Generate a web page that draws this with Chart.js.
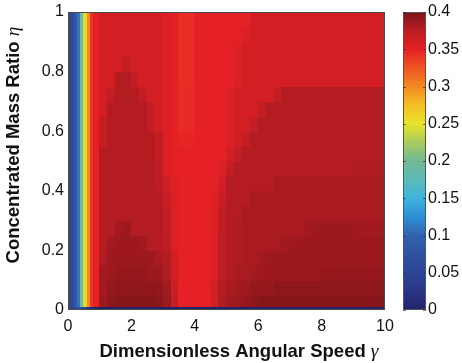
<!DOCTYPE html>
<html>
<head>
<meta charset="utf-8">
<script src="https://cdn.jsdelivr.net/npm/chart.js@4.4.1/dist/chart.umd.min.js"></script>
<style>
    html, body { margin: 0; padding: 0; background: #fff; }
    canvas { display: block; }
</style>
</head>
<body>
<canvas id="chart" width="462" height="363"></canvas>
<script>
// cell edges of the map (gamma across, eta up)
const xEdges = [0, 0.1, 0.2, 0.3, 0.4, 0.5, 0.6, 0.7, 0.8, 1,
    1.25, 1.5, 1.75, 2, 2.25, 2.5, 2.75, 3, 3.25, 3.5, 3.75, 4, 4.25, 4.5, 4.75,
    5, 5.25, 5.5, 5.75, 6, 6.25, 6.5, 6.75, 7, 7.25, 7.5, 7.75, 8, 8.25, 8.5, 8.75,
    9, 9.25, 9.5, 9.75, 10];
const etaEdges = [0, 0.012, 0.05, 0.1, 0.15, 0.2, 0.25, 0.3, 0.35, 0.4, 0.45,
    0.5, 0.55, 0.6, 0.65, 0.7, 0.75, 0.8, 0.85, 0.9, 0.95, 1];

// one row per eta band, bottom to top
const heatValues = [
    [0.05, 0.05, 0.06, 0.07, 0.08, 0.05, 0.02, 0.01,
     0, 0, 0, 0, 0, 0, 0, 0, 0, 0,
     0, 0, 0, 0, 0, 0, 0, 0, 0, 0,
     0, 0, 0, 0, 0, 0, 0, 0, 0, 0,
     0, 0, 0, 0, 0, 0, 0],
    [0.05, 0.06, 0.08, 0.11, 0.2, 0.26, 0.3, 0.34,
     0.35, 0.386, 0.392, 0.395, 0.395, 0.395, 0.395, 0.395, 0.392, 0.386,
     0.37, 0.35, 0.35, 0.35, 0.35, 0.36, 0.379, 0.384, 0.386, 0.389,
     0.392, 0.395, 0.395, 0.395, 0.395, 0.395, 0.395, 0.395, 0.395, 0.395,
     0.395, 0.395, 0.395, 0.395, 0.395, 0.395, 0.395],
    [0.05, 0.06, 0.08, 0.11, 0.2, 0.26, 0.3, 0.34,
     0.35, 0.384, 0.39, 0.392, 0.392, 0.392, 0.392, 0.392, 0.39, 0.384,
     0.366, 0.35, 0.35, 0.35, 0.35, 0.36, 0.377, 0.381, 0.384, 0.386,
     0.389, 0.389, 0.389, 0.392, 0.392, 0.392, 0.392, 0.392, 0.392, 0.392,
     0.392, 0.392, 0.392, 0.392, 0.392, 0.392, 0.392],
    [0.05, 0.06, 0.08, 0.11, 0.2, 0.26, 0.3, 0.34,
     0.35, 0.384, 0.386, 0.389, 0.389, 0.389, 0.389, 0.386, 0.386, 0.379,
     0.36, 0.35, 0.35, 0.35, 0.35, 0.355, 0.373, 0.379, 0.381, 0.381,
     0.384, 0.386, 0.386, 0.386, 0.386, 0.386, 0.386, 0.386, 0.386, 0.389,
     0.389, 0.389, 0.389, 0.389, 0.389, 0.389, 0.389],
    [0.05, 0.06, 0.08, 0.11, 0.2, 0.26, 0.3, 0.34,
     0.35, 0.379, 0.386, 0.386, 0.386, 0.386, 0.386, 0.386, 0.381, 0.377,
     0.36, 0.35, 0.35, 0.35, 0.35, 0.355, 0.373, 0.377, 0.379, 0.381,
     0.381, 0.384, 0.386, 0.386, 0.386, 0.386, 0.386, 0.386, 0.386, 0.386,
     0.386, 0.386, 0.386, 0.386, 0.386, 0.386, 0.386],
    [0.05, 0.06, 0.08, 0.11, 0.2, 0.26, 0.3, 0.34,
     0.35, 0.377, 0.384, 0.386, 0.386, 0.386, 0.384, 0.377, 0.377, 0.373,
     0.355, 0.35, 0.35, 0.35, 0.35, 0.355, 0.372, 0.377, 0.379, 0.381,
     0.381, 0.381, 0.381, 0.381, 0.384, 0.386, 0.386, 0.386, 0.386, 0.386,
     0.386, 0.386, 0.386, 0.386, 0.386, 0.386, 0.386],
    [0.05, 0.06, 0.08, 0.11, 0.2, 0.26, 0.3, 0.34,
     0.35, 0.377, 0.377, 0.384, 0.386, 0.377, 0.377, 0.377, 0.377, 0.37,
     0.355, 0.35, 0.35, 0.35, 0.35, 0.354, 0.37, 0.377, 0.379, 0.381,
     0.381, 0.381, 0.381, 0.381, 0.381, 0.381, 0.381, 0.384, 0.386, 0.386,
     0.386, 0.386, 0.386, 0.384, 0.384, 0.384, 0.384],
    [0.05, 0.06, 0.08, 0.11, 0.2, 0.26, 0.3, 0.34,
     0.35, 0.377, 0.377, 0.377, 0.377, 0.377, 0.377, 0.377, 0.377, 0.37,
     0.355, 0.35, 0.35, 0.35, 0.35, 0.354, 0.37, 0.377, 0.377, 0.381,
     0.381, 0.381, 0.381, 0.381, 0.381, 0.381, 0.381, 0.381, 0.381, 0.381,
     0.381, 0.381, 0.381, 0.381, 0.381, 0.381, 0.381],
    [0.05, 0.06, 0.08, 0.11, 0.2, 0.26, 0.3, 0.34,
     0.35, 0.377, 0.377, 0.377, 0.377, 0.377, 0.377, 0.377, 0.377, 0.366,
     0.355, 0.35, 0.35, 0.35, 0.35, 0.354, 0.366, 0.377, 0.377, 0.377,
     0.381, 0.381, 0.381, 0.381, 0.381, 0.381, 0.381, 0.381, 0.381, 0.381,
     0.381, 0.381, 0.381, 0.381, 0.381, 0.381, 0.381],
    [0.05, 0.06, 0.08, 0.11, 0.2, 0.26, 0.3, 0.34,
     0.35, 0.377, 0.377, 0.377, 0.377, 0.377, 0.377, 0.377, 0.372, 0.36,
     0.355, 0.35, 0.35, 0.35, 0.35, 0.35, 0.36, 0.377, 0.377, 0.377,
     0.377, 0.377, 0.377, 0.381, 0.381, 0.381, 0.381, 0.381, 0.381, 0.381,
     0.381, 0.381, 0.381, 0.381, 0.381, 0.381, 0.381],
    [0.05, 0.06, 0.08, 0.11, 0.2, 0.26, 0.3, 0.34,
     0.35, 0.377, 0.377, 0.377, 0.377, 0.377, 0.377, 0.377, 0.372, 0.355,
     0.35, 0.35, 0.35, 0.35, 0.35, 0.35, 0.355, 0.37, 0.377, 0.377,
     0.377, 0.377, 0.377, 0.377, 0.377, 0.377, 0.377, 0.377, 0.377, 0.377,
     0.377, 0.377, 0.377, 0.379, 0.379, 0.379, 0.379],
    [0.05, 0.06, 0.08, 0.11, 0.2, 0.26, 0.3, 0.34,
     0.35, 0.377, 0.377, 0.377, 0.377, 0.377, 0.377, 0.377, 0.37, 0.355,
     0.35, 0.35, 0.35, 0.35, 0.35, 0.35, 0.35, 0.36, 0.37, 0.377,
     0.377, 0.377, 0.377, 0.377, 0.377, 0.377, 0.377, 0.377, 0.377, 0.377,
     0.377, 0.377, 0.377, 0.377, 0.377, 0.377, 0.377],
    [0.05, 0.06, 0.08, 0.11, 0.2, 0.26, 0.3, 0.34,
     0.35, 0.37, 0.377, 0.377, 0.377, 0.377, 0.377, 0.377, 0.37, 0.355,
     0.35, 0.348, 0.348, 0.35, 0.35, 0.35, 0.35, 0.355, 0.36, 0.37,
     0.377, 0.377, 0.377, 0.377, 0.377, 0.377, 0.377, 0.377, 0.377, 0.377,
     0.377, 0.377, 0.377, 0.377, 0.377, 0.377, 0.377],
    [0.05, 0.06, 0.08, 0.11, 0.2, 0.26, 0.3, 0.34,
     0.35, 0.37, 0.377, 0.377, 0.377, 0.377, 0.377, 0.37, 0.36, 0.355,
     0.35, 0.345, 0.345, 0.35, 0.35, 0.35, 0.35, 0.355, 0.36, 0.36,
     0.37, 0.377, 0.377, 0.377, 0.377, 0.377, 0.377, 0.377, 0.377, 0.377,
     0.377, 0.377, 0.377, 0.377, 0.377, 0.377, 0.377],
    [0.05, 0.06, 0.08, 0.11, 0.2, 0.26, 0.3, 0.34,
     0.35, 0.36, 0.377, 0.377, 0.377, 0.377, 0.377, 0.37, 0.36, 0.355,
     0.35, 0.345, 0.345, 0.35, 0.35, 0.35, 0.35, 0.355, 0.36, 0.36,
     0.36, 0.37, 0.377, 0.377, 0.377, 0.377, 0.377, 0.377, 0.377, 0.377,
     0.377, 0.377, 0.377, 0.377, 0.377, 0.377, 0.377],
    [0.05, 0.06, 0.08, 0.11, 0.2, 0.26, 0.3, 0.34,
     0.35, 0.36, 0.37, 0.377, 0.377, 0.377, 0.37, 0.36, 0.36, 0.355,
     0.35, 0.345, 0.345, 0.35, 0.35, 0.35, 0.35, 0.355, 0.36, 0.36,
     0.36, 0.36, 0.36, 0.37, 0.377, 0.377, 0.377, 0.377, 0.377, 0.377,
     0.377, 0.377, 0.377, 0.377, 0.377, 0.377, 0.377],
    [0.05, 0.06, 0.08, 0.11, 0.2, 0.26, 0.3, 0.34,
     0.35, 0.36, 0.36, 0.377, 0.377, 0.37, 0.36, 0.36, 0.36, 0.355,
     0.35, 0.343, 0.343, 0.35, 0.35, 0.35, 0.35, 0.35, 0.355, 0.36,
     0.36, 0.36, 0.36, 0.36, 0.36, 0.36, 0.36, 0.36, 0.36, 0.36,
     0.36, 0.36, 0.36, 0.36, 0.36, 0.36, 0.36],
    [0.05, 0.06, 0.08, 0.11, 0.2, 0.26, 0.3, 0.34,
     0.35, 0.36, 0.36, 0.36, 0.37, 0.36, 0.36, 0.36, 0.36, 0.355,
     0.35, 0.343, 0.343, 0.35, 0.35, 0.35, 0.35, 0.35, 0.355, 0.36,
     0.36, 0.36, 0.36, 0.36, 0.36, 0.36, 0.36, 0.36, 0.36, 0.36,
     0.36, 0.36, 0.36, 0.36, 0.36, 0.36, 0.36],
    [0.05, 0.06, 0.08, 0.11, 0.2, 0.26, 0.3, 0.34,
     0.35, 0.36, 0.36, 0.36, 0.36, 0.36, 0.36, 0.36, 0.36, 0.355,
     0.35, 0.343, 0.343, 0.35, 0.35, 0.35, 0.35, 0.35, 0.355, 0.36,
     0.36, 0.36, 0.36, 0.36, 0.36, 0.36, 0.36, 0.36, 0.36, 0.36,
     0.36, 0.36, 0.36, 0.36, 0.36, 0.36, 0.36],
    [0.05, 0.06, 0.08, 0.11, 0.2, 0.26, 0.3, 0.34,
     0.35, 0.36, 0.36, 0.36, 0.36, 0.36, 0.36, 0.36, 0.36, 0.355,
     0.35, 0.343, 0.343, 0.35, 0.35, 0.35, 0.35, 0.35, 0.35, 0.355,
     0.36, 0.36, 0.36, 0.36, 0.36, 0.36, 0.36, 0.36, 0.36, 0.36,
     0.36, 0.36, 0.36, 0.36, 0.36, 0.36, 0.36],
    [0.05, 0.06, 0.08, 0.11, 0.2, 0.26, 0.3, 0.34,
     0.35, 0.36, 0.36, 0.36, 0.36, 0.36, 0.36, 0.36, 0.36, 0.355,
     0.35, 0.343, 0.343, 0.35, 0.35, 0.35, 0.35, 0.35, 0.35, 0.35,
     0.36, 0.36, 0.36, 0.36, 0.36, 0.36, 0.36, 0.36, 0.36, 0.36,
     0.36, 0.36, 0.36, 0.36, 0.36, 0.36, 0.36]
];

const xTickValues = [0, 2, 4, 6, 8, 10];
const yTickValues = [0, 0.2, 0.4, 0.6, 0.8, 1];
const colorbarTickValues = [0, 0.05, 0.1, 0.15, 0.2, 0.25, 0.3, 0.35, 0.4];

const cmapStops = [0, 0.025, 0.05, 0.075, 0.1, 0.125, 0.15, 0.175, 0.2,
    0.225, 0.25, 0.275, 0.3, 0.325, 0.35, 0.375, 0.4];
const cmapColors = ["#22236a", "#2a3484", "#2d4494", "#2f52a2", "#3062ae",
    "#2e8fd2", "#40b3de", "#5cbab8", "#72b994", "#a8cc5c", "#e8e32c",
    "#f5bf24", "#f28a22", "#ee5424", "#e52125", "#b91d23", "#7a1418"];

const tickFont = { family: "'Liberation Sans', Arial, sans-serif", size: 16 };
const titleFont = "bold 18.5px 'Liberation Sans', Arial, sans-serif";
const greekFont = "italic 19.5px 'Liberation Serif', 'Times New Roman', serif";

function hexToRgb(hex) {
    const n = parseInt(hex.slice(1), 16);
    return [(n >> 16) & 255, (n >> 8) & 255, n & 255];
}

function colorFor(value) {
    if (value <= cmapStops[0]) return cmapColors[0];
    for (let i = 1; i < cmapStops.length; i++) {
        if (value <= cmapStops[i]) {
            const t = (value - cmapStops[i - 1]) / (cmapStops[i] - cmapStops[i - 1]);
            const a = hexToRgb(cmapColors[i - 1]);
            const b = hexToRgb(cmapColors[i]);
            const c = a.map((v, k) => Math.round(v + (b[k] - v) * t));
            return `rgb(${c[0]}, ${c[1]}, ${c[2]})`;
        }
    }
    return cmapColors[cmapColors.length - 1];
}

function formatTick(value) {
    return String(Math.round(value * 100) / 100);
}

function measureTitle(ctx, text, greek) {
    ctx.font = titleFont;
    const w1 = ctx.measureText(text).width;
    ctx.font = greekFont;
    const w2 = ctx.measureText(greek).width;
    return { w1, w2, total: w1 + w2 };
}

const heatmapPlugin = {
    id: "heatmap",
    beforeDatasetsDraw(chart) {
        const { ctx, chartArea, scales: { x, y, y2 } } = chart;

        ctx.save();
        ctx.beginPath();
        ctx.rect(chartArea.left, chartArea.top, chartArea.width, chartArea.height);
        ctx.clip();
        heatValues.forEach((row, i) => {
            const yTop = Math.floor(y.getPixelForValue(etaEdges[i + 1]));
            const yBottom = Math.ceil(y.getPixelForValue(etaEdges[i]));
            row.forEach((value, j) => {
                const xLeft = Math.floor(x.getPixelForValue(xEdges[j]));
                const xRight = Math.ceil(x.getPixelForValue(xEdges[j + 1]));
                ctx.fillStyle = colorFor(value);
                ctx.fillRect(xLeft, yTop, xRight - xLeft, yBottom - yTop);
            });
        });
        ctx.restore();

        // axes box
        ctx.save();
        ctx.strokeStyle = "#4a4a4a";
        ctx.lineWidth = 1;
        ctx.strokeRect(chartArea.left + 0.5, chartArea.top + 0.5,
            chartArea.width - 1, chartArea.height - 1);
        ctx.restore();

        // colorbar
        const barLeft = 403;
        const barRight = 426;
        const barTop = y2.getPixelForValue(0.4);
        const barBottom = y2.getPixelForValue(0);
        const gradient = ctx.createLinearGradient(0, barBottom, 0, barTop);
        cmapStops.forEach((stop, i) => {
            gradient.addColorStop(stop / 0.4, cmapColors[i]);
        });
        ctx.save();
        ctx.fillStyle = gradient;
        ctx.fillRect(barLeft, barTop, barRight - barLeft, barBottom - barTop);
        ctx.strokeStyle = "#555";
        ctx.lineWidth = 1;
        ctx.strokeRect(barLeft + 0.5, barTop + 0.5, barRight - barLeft - 1, barBottom - barTop - 1);
        ctx.strokeStyle = "rgba(40, 40, 40, 0.6)";
        colorbarTickValues.forEach(v => {
            const py = Math.round(y2.getPixelForValue(v)) + 0.5;
            ctx.beginPath();
            ctx.moveTo(barLeft, py);
            ctx.lineTo(barLeft + 3, py);
            ctx.moveTo(barRight - 3, py);
            ctx.lineTo(barRight, py);
            ctx.stroke();
        });
        ctx.restore();
    },
    afterDraw(chart) {
        const { ctx } = chart;
        ctx.save();
        ctx.fillStyle = "#111";
        ctx.textBaseline = "alphabetic";
        ctx.textAlign = "left";

        // x title
        const xt = measureTitle(ctx, "Dimensionless Angular Speed ", "\u03b3");
        const xStart = 239 - xt.total / 2;
        ctx.font = titleFont;
        ctx.fillText("Dimensionless Angular Speed ", xStart, 357);
        ctx.font = greekFont;
        ctx.fillText("\u03b3", xStart + xt.w1, 357);

        // y title
        const yt = measureTitle(ctx, "Concentrated Mass Ratio ", "\u03b7");
        ctx.translate(19, 145 + yt.total / 2);
        ctx.rotate(-Math.PI / 2);
        ctx.font = titleFont;
        ctx.fillText("Concentrated Mass Ratio ", 0, 0);
        ctx.font = greekFont;
        ctx.fillText("\u03b7", yt.w1, 0);
        ctx.restore();
    }
};

new Chart(document.getElementById("chart"), {
    type: "scatter",
    data: {
        datasets: [{ data: [], yAxisID: "y" }]
    },
    options: {
        responsive: false,
        animation: false,
        events: [],
        layout: { padding: { top: 12, left: 0, right: 0, bottom: 0 } },
        plugins: {
            legend: { display: false },
            tooltip: { enabled: false }
        },
        scales: {
            x: {
                type: "linear",
                min: 0,
                max: 10,
                afterBuildTicks(scale) {
                    scale.ticks = xTickValues.map(value => ({ value }));
                },
                afterFit(scale) {
                    scale.height = 53;
                },
                grid: { display: false, drawTicks: false },
                border: { display: false },
                ticks: {
                    font: tickFont,
                    color: "#111",
                    padding: 7,
                    maxRotation: 0,
                    autoSkip: false,
                    callback: formatTick
                }
            },
            y: {
                type: "linear",
                position: "left",
                min: 0,
                max: 1,
                afterBuildTicks(scale) {
                    scale.ticks = yTickValues.map(value => ({ value }));
                },
                afterFit(scale) {
                    scale.width = 68;
                    scale.paddingTop = 0;
                    scale.paddingBottom = 0;
                },
                grid: { display: false, drawTicks: false },
                border: { display: false },
                ticks: {
                    font: tickFont,
                    color: "#111",
                    padding: 4,
                    autoSkip: false,
                    callback: formatTick
                }
            },
            y2: {
                type: "linear",
                position: "right",
                min: 0,
                max: 0.4,
                afterBuildTicks(scale) {
                    scale.ticks = colorbarTickValues.map(value => ({ value }));
                },
                afterFit(scale) {
                    scale.width = 77;
                    scale.paddingTop = 0;
                    scale.paddingBottom = 0;
                },
                grid: { display: false, drawTicks: false },
                border: { display: false },
                ticks: {
                    font: tickFont,
                    color: "#111",
                    padding: 43,
                    autoSkip: false,
                    callback: formatTick
                }
            }
        }
    },
    plugins: [heatmapPlugin]
});
</script>
</body>
</html>
